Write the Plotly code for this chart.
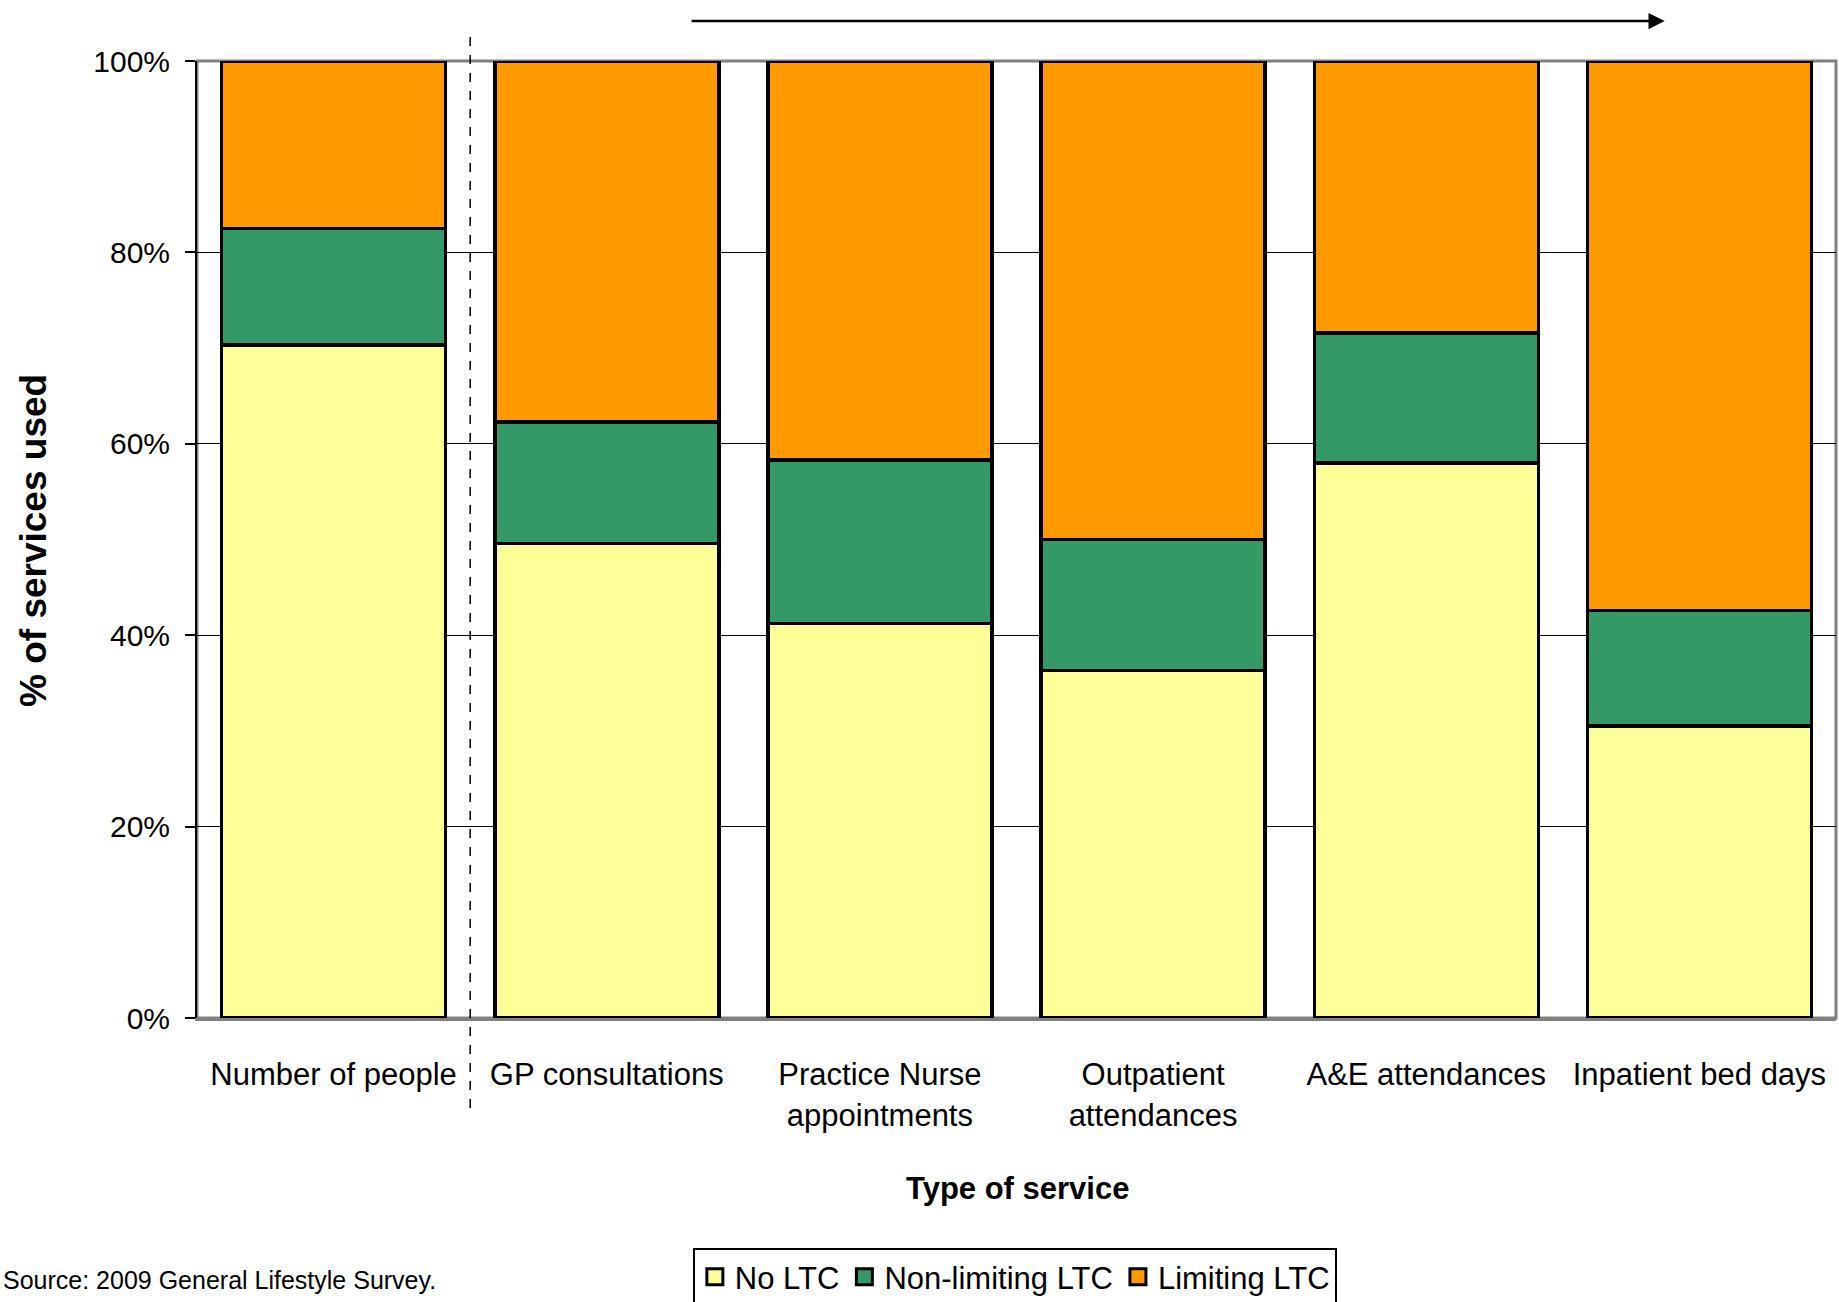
import plotly.graph_objects as go

# Service-use share by long-term-condition (LTC) status, 2009 General Lifestyle Survey
categories = [
    "Number of people",
    "GP consultations",
    "Practice Nurse<br>appointments",
    "Outpatient<br>attendances",
    "A&E attendances",
    "Inpatient bed days",
]
no_ltc = [70.3, 49.6, 41.2, 36.3, 58.0, 30.5]
non_limiting_ltc = [12.2, 12.7, 17.1, 13.7, 13.6, 12.1]
limiting_ltc = [17.5, 37.7, 41.7, 50.0, 28.4, 57.4]

series_names = ["No LTC", "Non-limiting LTC", "Limiting LTC"]
series_values = [no_ltc, non_limiting_ltc, limiting_ltc]
series_colors = ["#FFFF99", "#339966", "#FF9900"]

y_ticks = [0, 20, 40, 60, 80, 100]
y_tick_labels = ["0%", "20%", "40%", "60%", "80%", "100%"]

FONT = "Liberation Sans, Arial, sans-serif"

W, H = 1839, 1302
L, R, T, B = 197, 3, 61, 284
plot_w = W - L - R
plot_h = H - T - B


def px_x(px):
    return (px - L) / plot_w


def px_y(py):
    return (H - B - py) / plot_h


x_idx = list(range(len(categories)))

fig = go.Figure()
for name, vals, color in zip(series_names, series_values, series_colors):
    fig.add_trace(
        go.Bar(
            x=x_idx,
            y=vals,
            name=name,
            legendgroup=name,
            showlegend=False,
            marker=dict(color=color, line=dict(color="black", width=3.5)),
        )
    )

# Legend keys: larger outlined squares than the default bar swatch
for name, color in zip(series_names, series_colors):
    fig.add_trace(
        go.Scatter(
            x=[None],
            y=[None],
            mode="markers",
            name=name,
            legendgroup=name,
            marker=dict(symbol="square", size=16, color=color,
                        line=dict(color="black", width=3)),
        )
    )

fig.update_layout(
    width=W,
    height=H,
    margin=dict(l=L, r=R, t=T, b=B, autoexpand=False),
    barmode="stack",
    bargap=0.18,
    plot_bgcolor="white",
    paper_bgcolor="white",
    font=dict(family=FONT, size=31, color="black"),
    showlegend=True,
    legend=dict(
        orientation="h",
        x=0.499,
        xanchor="center",
        y=px_y(1248),
        yanchor="top",
        bordercolor="black",
        borderwidth=2,
        font=dict(family=FONT, size=31, color="black"),
        traceorder="normal",
        itemwidth=30,
        itemclick=False,
    ),
    xaxis=dict(
        range=[-0.5, 5.5],
        tickvals=x_idx,
        ticktext=categories,
        tickangle=0,
        ticks="",
        showline=True,
        linecolor="#808080",
        linewidth=3,
        showgrid=False,
        zeroline=False,
        tickfont=dict(family=FONT, size=31, color="black"),
        ticklabelstandoff=27,
        fixedrange=True,
    ),
    yaxis=dict(
        range=[0, 100],
        tickmode="array",
        tickvals=y_ticks,
        ticktext=y_tick_labels,
        ticks="outside",
        ticklen=10,
        tickwidth=2,
        tickcolor="black",
        showline=True,
        linecolor="black",
        linewidth=2,
        showgrid=True,
        gridcolor="black",
        gridwidth=1.3,
        zeroline=False,
        tickfont=dict(family=FONT, size=30, color="black"),
        ticklabelstandoff=9,
        fixedrange=True,
    ),
)

# Grey frame of the plotting area
fig.add_shape(
    type="rect", xref="paper", yref="paper", x0=0, x1=1, y0=0, y1=1,
    line=dict(color="#808080", width=3), layer="below",
)

# Dashed divider between the population bar and the service bars
fig.add_shape(
    type="line", xref="x", yref="paper", x0=0.5, x1=0.5,
    y0=px_y(1108), y1=px_y(35),
    line=dict(color="black", width=1.5, dash="dash"),
)

# Arrow across the top of the service bars
fig.add_annotation(
    xref="x", yref="paper", x=4.873, y=px_y(21),
    axref="x", ayref="pixel", ax=1.305, ay=0,
    text="", showarrow=True, arrowhead=2, arrowsize=1.3,
    arrowwidth=2.5, arrowcolor="black",
)

# Axis titles
fig.add_annotation(
    xref="paper", yref="paper", x=px_x(1017), y=px_y(1188),
    text="<b>Type of service</b>", showarrow=False,
    xanchor="center", yanchor="middle",
    font=dict(family=FONT, size=31, color="black"),
)
fig.add_annotation(
    xref="paper", yref="paper", x=px_x(33), y=px_y(541),
    text="<b>% of services used</b>", showarrow=False, textangle=-90,
    xanchor="center", yanchor="middle",
    font=dict(family=FONT, size=37, color="black"),
)

# Source note
fig.add_annotation(
    xref="paper", yref="paper", x=px_x(438), y=px_y(1280),
    text="Source: 2009 General Lifestyle Survey.", showarrow=False,
    xanchor="right", yanchor="middle",
    font=dict(family=FONT, size=25, color="black"),
)

fig.write_html("out.html")
